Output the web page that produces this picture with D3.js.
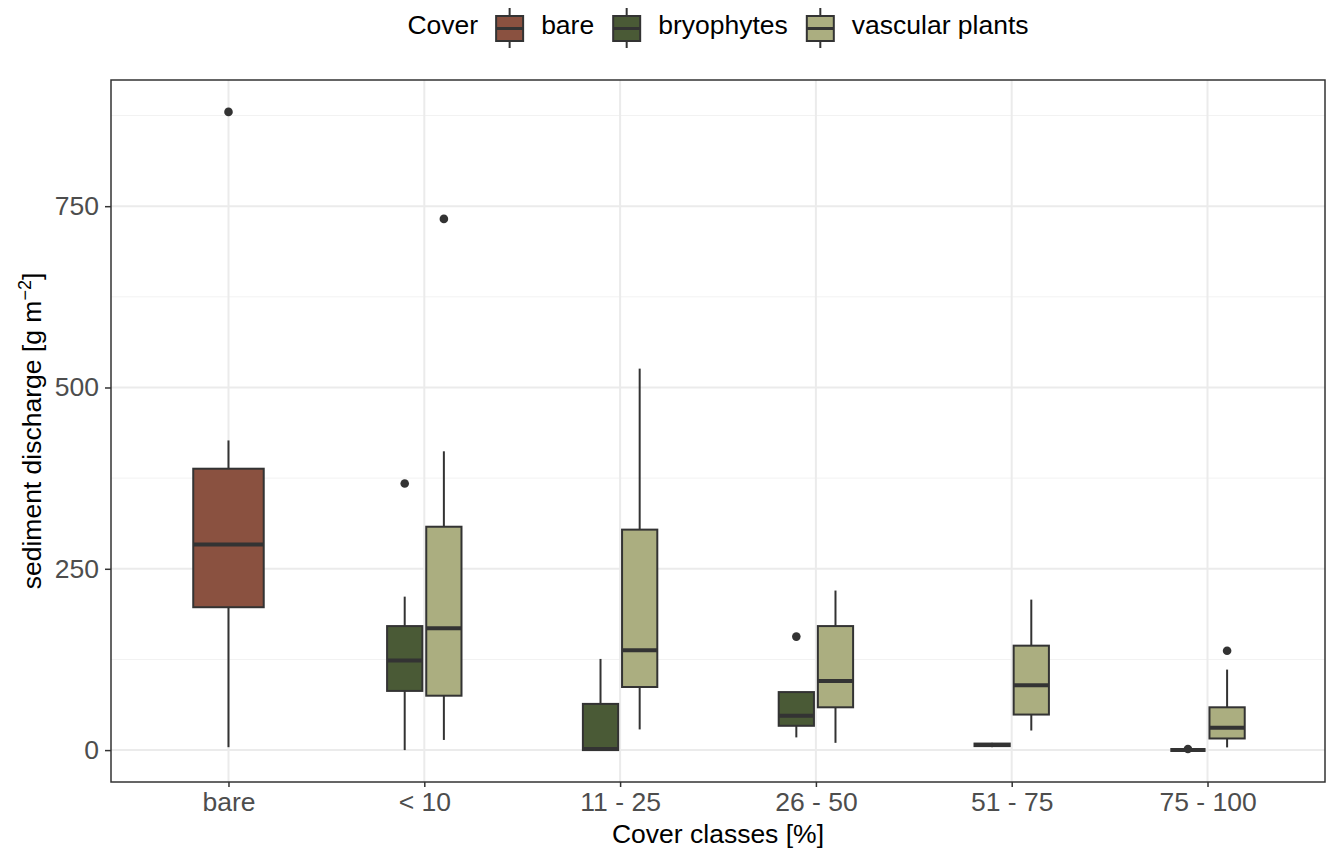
<!DOCTYPE html>
<html>
<head>
<meta charset="utf-8">
<script src="https://cdn.jsdelivr.net/npm/d3@7"></script>
<style>
  body { margin: 0; background: #fff; }
  text { font-family: "Liberation Sans", Arial, sans-serif; }
</style>
</head>
<body>
<svg id="chart" width="1335" height="854"></svg>
<script>
// categories on the x axis and the cover groups
var categories = ["bare", "< 10", "11 - 25", "26 - 50", "51 - 75", "75 - 100"];
var covers = ["bare", "bryophytes", "vascular plants"];
var coverColors = ["#8a5140", "#4a5a36", "#abae80"];

// one entry per box
var boxCategory = ["bare", "< 10", "< 10", "11 - 25", "11 - 25", "26 - 50", "26 - 50", "51 - 75", "51 - 75", "75 - 100", "75 - 100"];
var boxCover    = ["bare", "bryophytes", "vascular plants", "bryophytes", "vascular plants", "bryophytes", "vascular plants", "bryophytes", "vascular plants", "bryophytes", "vascular plants"];
var lowerWhisker = [4,   0,     14,  0,    28.5, 17.5, 10,  4,   27,  0,   3.7];
var q1           = [197, 81.6,  75,  0,    87,   33.5, 59,  5.5, 49,  0,   16];
var median       = [283.6, 123.5, 168, 1.5, 137.7, 47.2, 95.4, 7, 89.5, 0, 30.7];
var q3           = [388, 171,   308, 63.7, 304,  80,   171, 9,   144, 0,   59];
var upperWhisker = [427, 211.6, 412, 125.7, 526, 80,   220, 10,  207.5, 0.2, 111];
var outliers     = [[880], [367.6], [732.5], [], [], [156.5], [], [], [], [1.5], [137]];

var yTicks = [0, 250, 500, 750];
var yMinor = [125, 375, 625, 875];

var margin = {top: 80, right: 10, bottom: 72, left: 111},
    width = 1325 - margin.left,
    height = 782 - margin.top;

var svg = d3.select("#chart");
var g = svg.append("g")
    .attr("transform", "translate(" + margin.left + "," + margin.top + ")");

var x = d3.scalePoint()
    .domain(categories)
    .range([0, width])
    .padding(0.6);

var y = d3.scaleLinear()
    .domain([-44, 924])
    .range([height, 0]);

var color = d3.scaleOrdinal().domain(covers).range(coverColors);

// grid
g.selectAll(".minor").data(yMinor).enter().append("line")
    .attr("x1", 0).attr("x2", width)
    .attr("y1", function(d) { return y(d); }).attr("y2", function(d) { return y(d); })
    .attr("stroke", "#f2f2f2").attr("stroke-width", 1);
g.selectAll(".major").data(yTicks).enter().append("line")
    .attr("x1", 0).attr("x2", width)
    .attr("y1", function(d) { return y(d); }).attr("y2", function(d) { return y(d); })
    .attr("stroke", "#ebebeb").attr("stroke-width", 2);
g.selectAll(".vmajor").data(categories).enter().append("line")
    .attr("y1", 0).attr("y2", height)
    .attr("x1", function(d) { return x(d); }).attr("x2", function(d) { return x(d); })
    .attr("stroke", "#ebebeb").attr("stroke-width", 2);

// boxes: dodge inside a width of 0.4 * step, 0.1 padding
var dodgeWidth = 0.4 * x.step();
var boxes = boxCategory.map(function(c, i) {
  var n = boxCategory.filter(function(d) { return d === c; }).length;
  var k = boxCategory.slice(0, i).filter(function(d) { return d === c; }).length;
  var slot = dodgeWidth / n;
  return {
    cx: x(c) - dodgeWidth / 2 + slot * (k + 0.5),
    w: slot * 0.9,
    cover: boxCover[i],
    lw: lowerWhisker[i], q1: q1[i], med: median[i], q3: q3[i], uw: upperWhisker[i],
    out: outliers[i]
  };
});

var bx = g.selectAll(".box").data(boxes).enter().append("g");

bx.append("line")
    .attr("x1", function(d) { return d.cx; }).attr("x2", function(d) { return d.cx; })
    .attr("y1", function(d) { return y(d.uw); }).attr("y2", function(d) { return y(d.q3); })
    .attr("stroke", "#333").attr("stroke-width", 2);
bx.append("line")
    .attr("x1", function(d) { return d.cx; }).attr("x2", function(d) { return d.cx; })
    .attr("y1", function(d) { return y(d.q1); }).attr("y2", function(d) { return y(d.lw); })
    .attr("stroke", "#333").attr("stroke-width", 2);
bx.append("rect")
    .attr("x", function(d) { return d.cx - d.w / 2; })
    .attr("width", function(d) { return d.w; })
    .attr("y", function(d) { return y(d.q3); })
    .attr("height", function(d) { return y(d.q1) - y(d.q3); })
    .attr("fill", function(d) { return color(d.cover); })
    .attr("stroke", "#333").attr("stroke-width", 2);
bx.append("line")
    .attr("x1", function(d) { return d.cx - d.w / 2; }).attr("x2", function(d) { return d.cx + d.w / 2; })
    .attr("y1", function(d) { return y(d.med); }).attr("y2", function(d) { return y(d.med); })
    .attr("stroke", "#333").attr("stroke-width", 4);
bx.selectAll("circle").data(function(d) { return d.out.map(function(v) { return {cx: d.cx, v: v}; }); })
  .enter().append("circle")
    .attr("cx", function(d) { return d.cx; })
    .attr("cy", function(d) { return y(d.v); })
    .attr("r", 4.3)
    .attr("fill", "#333");

// panel border
g.append("rect")
    .attr("width", width).attr("height", height)
    .attr("fill", "none").attr("stroke", "#333").attr("stroke-width", 1.5);

// axes
var xAxis = d3.axisBottom(x).tickSize(5).tickPadding(5);
var yAxis = d3.axisLeft(y).tickValues(yTicks).tickSize(6).tickPadding(6);

var gx = g.append("g").attr("transform", "translate(0," + height + ")").call(xAxis);
var gy = g.append("g").call(yAxis);
[gx, gy].forEach(function(a) {
  a.select(".domain").remove();
  a.selectAll(".tick line").attr("stroke", "#333").attr("stroke-width", 1.5);
  a.selectAll(".tick text").attr("fill", "#4d4d4d").style("font-size", "26.5px")
    .style("font-family", "'Liberation Sans', Arial, sans-serif");
});

// axis titles
svg.append("text")
    .attr("x", margin.left + width / 2).attr("y", 843)
    .attr("text-anchor", "middle").style("font-size", "26.5px").attr("fill", "#000")
    .text("Cover classes [%]");

var yt = svg.append("text")
    .attr("transform", "translate(41," + (margin.top + height / 2) + ") rotate(-90)")
    .attr("text-anchor", "middle").style("font-size", "26.5px").attr("fill", "#000");
yt.append("tspan").text("sediment discharge [g m");
yt.append("tspan").attr("dy", -10).style("font-size", "18px").text("\u22122");
yt.append("tspan").attr("dy", 10).text("]");

// legend
var legend = svg.append("g");
var lx = 0;
var lt = legend.append("text").attr("x", lx).attr("y", 34)
    .style("font-size", "26.5px").text("Cover");
lx += lt.node().getComputedTextLength() + 17;
covers.forEach(function(c) {
  var kg = legend.append("g").attr("transform", "translate(" + lx + ",0)");
  kg.append("line").attr("x1", 14.5).attr("x2", 14.5).attr("y1", 8).attr("y2", 48)
    .attr("stroke", "#333").attr("stroke-width", 2);
  kg.append("rect").attr("x", 1).attr("y", 16).attr("width", 27).attr("height", 25)
    .attr("fill", color(c)).attr("stroke", "#333").attr("stroke-width", 2);
  kg.append("line").attr("x1", 1).attr("x2", 28).attr("y1", 28.5).attr("y2", 28.5)
    .attr("stroke", "#333").attr("stroke-width", 3);
  lx += 29 + 17;
  var t = legend.append("text").attr("x", lx).attr("y", 34)
    .style("font-size", "26.5px").text(c);
  lx += t.node().getComputedTextLength() + 18;
});
lx -= 18;
legend.attr("transform", "translate(" + (margin.left + width / 2 - lx / 2) + ",0)");
</script>
</body>
</html>
